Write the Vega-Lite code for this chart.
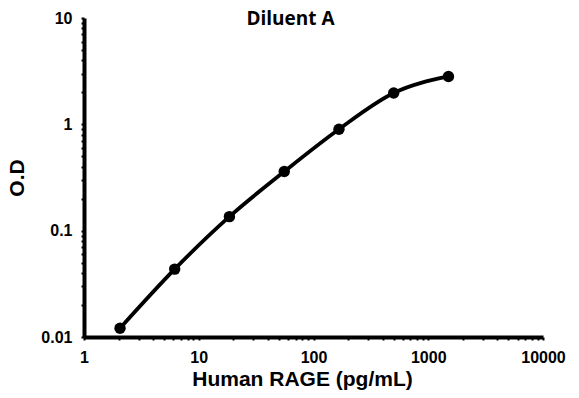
{
  "$schema": "https://vega.github.io/schema/vega-lite/v6.json",
  "width": 459,
  "height": 319,
  "autosize": {"type": "none"},
  "padding": {"left": 84, "top": 18, "right": 36, "bottom": 61},
  "background": "white",
  "title": {"text": "Diluent A", "font": "Open Sans", "fontSize": 19, "fontWeight": "bold", "color": "black", "anchor": "middle", "dx": -23, "offset": -19},
  "config": {"view": {"stroke": null}},
  "data": {"values": [
    {"conc": 2.06, "od": 0.0121},
    {"conc": 6.17, "od": 0.0435},
    {"conc": 18.5, "od": 0.1355},
    {"conc": 55.6, "od": 0.36},
    {"conc": 166.7, "od": 0.9},
    {"conc": 500, "od": 1.97},
    {"conc": 1500, "od": 2.82}
  ]},
  "encoding": {
    "x": {"field": "conc", "type": "quantitative",
      "scale": {"type": "log", "domain": [1, 10000], "nice": false},
      "axis": {"title": "Human RAGE (pg/mL)", "titleFont": "Liberation Sans", "titleFontSize": 21, "titleFontWeight": "bold", "titleColor": "black", "titleX": 218, "titlePadding": 3,
        "values": [1,2,3,4,5,6,7,8,9,10,20,30,40,50,60,70,80,90,100,200,300,400,500,600,700,800,900,1000,2000,3000,4000,5000,6000,7000,8000,9000,10000],
        "labelExpr": "indexof(['1','10','100','1000','10000'], format(datum.value, 'd')) >= 0 ? format(datum.value, 'd') : ''",
        "labelFont": "Liberation Sans", "labelFontSize": 16, "labelFontWeight": "bold", "labelColor": "black", "labelPadding": 9, "labelFlush": false, "labelOverlap": false,
        "domainColor": "black", "domainWidth": 4, "tickColor": "black", "tickWidth": 2, "tickSize": 3, "grid": false}},
    "y": {"field": "od", "type": "quantitative",
      "scale": {"type": "log", "domain": [0.01, 10], "nice": false},
      "axis": {"title": "O.D", "titleFont": "Liberation Sans", "titleFontSize": 21, "titleFontWeight": "bold", "titleColor": "black", "titlePadding": 13,
        "values": [0.01,0.02,0.03,0.04,0.05,0.06,0.07,0.08,0.09,0.1,0.2,0.3,0.4,0.5,0.6,0.7,0.8,0.9,1,2,3,4,5,6,7,8,9,10],
        "labelExpr": "indexof(['0.01','0.1','1','10'], format(datum.value, '~g')) >= 0 ? format(datum.value, '~g') : ''",
        "labelFont": "Liberation Sans", "labelFontSize": 16, "labelFontWeight": "bold", "labelColor": "black", "labelPadding": 9, "labelFlush": false, "labelOverlap": false,
        "domainColor": "black", "domainWidth": 4, "tickColor": "black", "tickWidth": 2, "tickSize": 3, "grid": false}}
  },
  "layer": [
    {"mark": {"type": "line", "interpolate": "monotone", "color": "black", "strokeWidth": 3.8}},
    {"mark": {"type": "point", "filled": true, "color": "black", "opacity": 1, "size": 130}}
  ]
}
